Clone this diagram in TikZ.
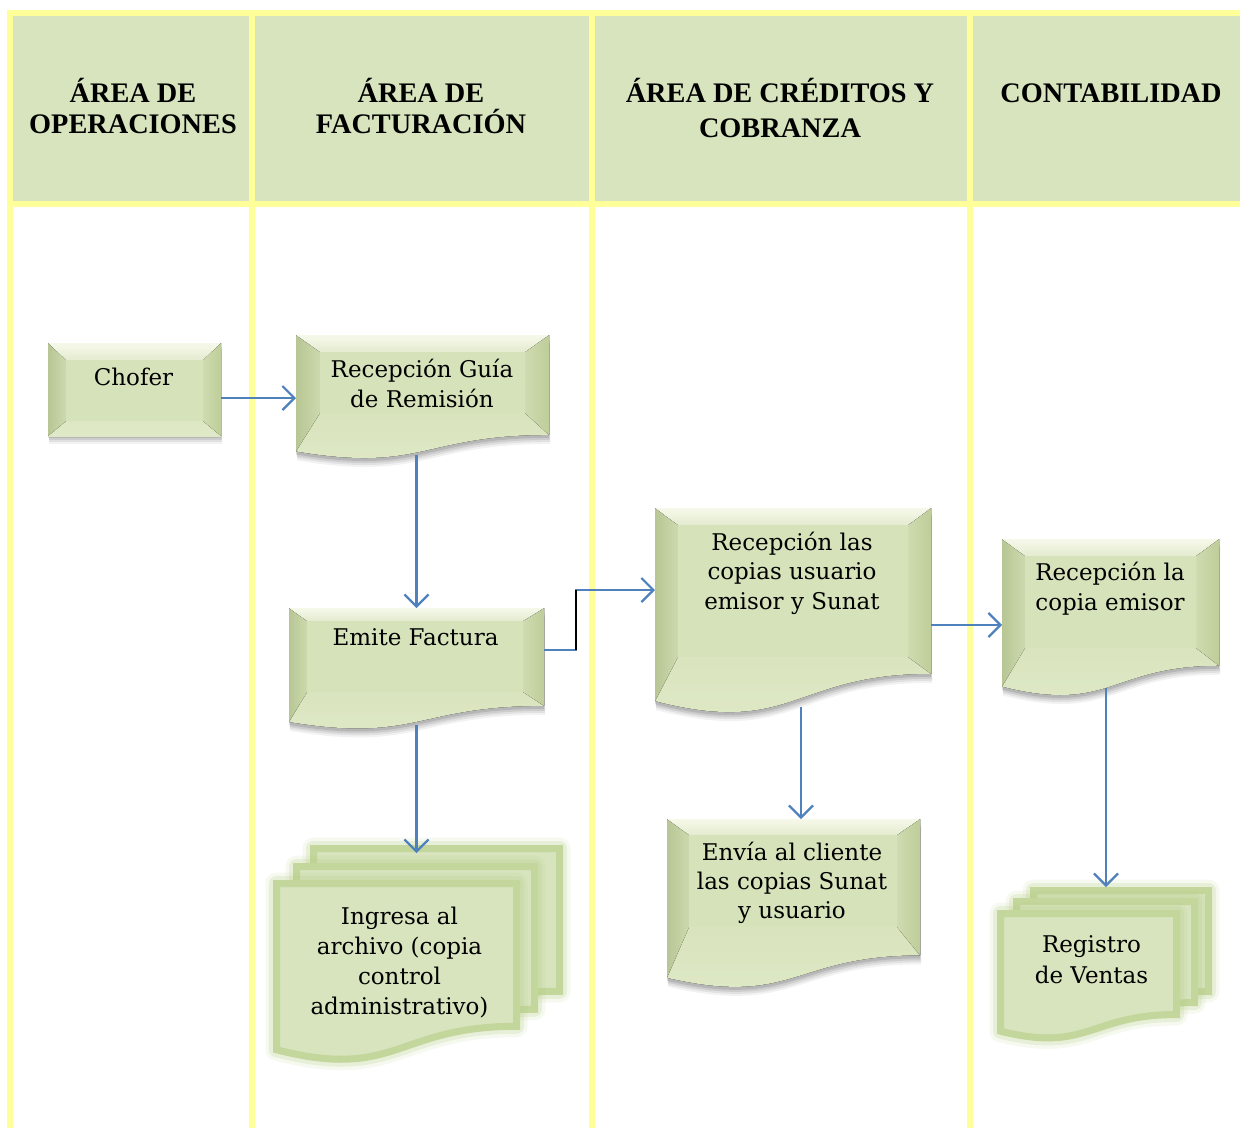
\documentclass[tikz,border=0pt]{standalone}
\usepackage{fontspec}
\setmainfont{DejaVu Serif}
\newfontfamily\headfont{Liberation Serif}
\usetikzlibrary{arrows.meta}
\definecolor{lanefill}{HTML}{D7E4BD}
\definecolor{laneline}{HTML}{FFFF99}
\definecolor{connblue}{HTML}{4F81BD}
\definecolor{face}{HTML}{D6E2BA}
\definecolor{bbtop}{HTML}{D0DDB0}
\definecolor{bbbot}{HTML}{DFE9C7}
\definecolor{lbout}{HTML}{B8C695}
\definecolor{lbin}{HTML}{CCD9AD}
\definecolor{rbin}{HTML}{CFDBB0}
\definecolor{rbout}{HTML}{BECD99}
\definecolor{tbout}{HTML}{F6F9EA}
\definecolor{tbin}{HTML}{E4EBCF}
\definecolor{pagefill}{HTML}{D8E4BE}
\definecolor{pageline}{HTML}{C3D69B}
\definecolor{pageglow}{HTML}{B5CC85}
\newcommand\mlines[2]{\vtop{\baselineskip=#1\lineskiplimit=-50pt\halign{\hfil##\hfil\cr#2\crcr}}}
\newcommand\bevdoc[8]{%
  \pgfmathsetmacro\bdR{#2+0.802*#4}%
  \pgfmathsetmacro\bdL{#2+0.934*#4}%
  \pgfmathsetmacro\bdX{(#1+#3)/2}%
  \pgfmathsetmacro\bdC{#2+1.1075*#4}%
  \foreach \dx/\dy/\op in {1/9/0.05,1/7/0.07,0.5/5/0.09,0/3/0.11}{%
    \fill[black,opacity=\op,shift={(\dx,\dy)}] (#1,#2) -- (#3,#2) -- (#3,\bdR) .. controls (\bdX,\bdR) and (\bdX,\bdC) .. (#1,\bdL) -- cycle;}%
  \fill[top color=bbtop,bottom color=bbbot] (#1,#2) -- (#3,#2) -- (#3,\bdR) .. controls (\bdX,\bdR) and (\bdX,\bdC) .. (#1,\bdL) -- cycle;
  \fill[left color=lbout,right color=lbin] (#1,#2) -- (#5,#6) -- (#5,#8) -- (#1,\bdL) -- cycle;
  \fill[left color=rbin,right color=rbout] (#3,#2) -- (#7,#6) -- (#7,#8) -- (#3,\bdR) -- cycle;
  \fill[top color=tbout,bottom color=tbin] (#1,#2) -- (#3,#2) -- (#7,#6) -- (#5,#6) -- cycle;
  \fill[face] (#5,#6) rectangle (#7,#8);
}
\newcommand\bevbox[8]{%
  \foreach \dx/\dy/\op in {1/8/0.05,1/6/0.07,0.5/4/0.09,0/2/0.11}{%
    \fill[black,opacity=\op,shift={(\dx,\dy)}] (#1,#2) rectangle (#3,#4);}%
  \fill[top color=bbtop,bottom color=bbbot] (#1,#2) rectangle (#3,#4);
  \fill[left color=lbout,right color=lbin] (#1,#2) -- (#5,#6) -- (#5,#8) -- (#1,#4) -- cycle;
  \fill[left color=rbin,right color=rbout] (#3,#2) -- (#7,#6) -- (#7,#8) -- (#3,#4) -- cycle;
  \fill[top color=tbout,bottom color=tbin] (#1,#2) -- (#3,#2) -- (#7,#6) -- (#5,#6) -- cycle;
  \fill[face] (#5,#6) rectangle (#7,#8);
}
\newcommand\mpage[4]{%
  \pgfmathsetmacro\bdR{#2+0.802*#4}%
  \pgfmathsetmacro\bdL{#2+0.934*#4}%
  \pgfmathsetmacro\bdX{(#1+#3)/2}%
  \pgfmathsetmacro\bdC{#2+1.1075*#4}%
  \draw[pageglow,line width=22pt,opacity=0.12,line join=round] (#1,#2) -- (#3,#2) -- (#3,\bdR) .. controls (\bdX,\bdR) and (\bdX,\bdC) .. (#1,\bdL) -- cycle;
  \draw[pageglow,line width=15pt,opacity=0.22,line join=round] (#1,#2) -- (#3,#2) -- (#3,\bdR) .. controls (\bdX,\bdR) and (\bdX,\bdC) .. (#1,\bdL) -- cycle;
  \fill[pagefill] (#1,#2) -- (#3,#2) -- (#3,\bdR) .. controls (\bdX,\bdR) and (\bdX,\bdC) .. (#1,\bdL) -- cycle;
  \draw[pageline,line width=7pt] (#1,#2) -- (#3,#2) -- (#3,\bdR) .. controls (\bdX,\bdR) and (\bdX,\bdC) .. (#1,\bdL) -- cycle;
}
\tikzset{
  connector/.style={draw=connblue, line width=2.2pt, -{Straight Barb[length=12pt,width=24pt]}},
  lanerule/.style={draw=laneline, line width=6pt},
  shapebox/.style={inner sep=0pt, outer sep=0pt, draw=none},
  body/.style={inner sep=0pt, anchor=base, font=\fontsize{23}{30}\selectfont},
  head/.style={inner sep=0pt, anchor=base, font=\headfont\bfseries\fontsize{28.3}{31}\selectfont},
}
\begin{document}
\begin{tikzpicture}[x=1pt,y=-1pt]
\useasboundingbox (0,0) rectangle (1240,1128);
% lanes
\fill[lanefill] (10,13) rectangle (1240,204);
\draw[lanerule] (7,13) -- (1240,13);
\draw[lanerule] (7,204) -- (1240,204);
\draw[lanerule] (10,13) -- (10,1128);
\draw[lanerule] (252,13) -- (252,1128);
\draw[lanerule] (592,13) -- (592,1128);
\draw[lanerule] (970,13) -- (970,1128);
\node[head] (h1) at (133,102) {\mlines{31pt}{ÁREA DE\cr OPERACIONES}};
\node[head] (h2) at (421,102) {\mlines{31pt}{ÁREA DE\cr FACTURACIÓN}};
\node[head] (h3) at (780,102) {\mlines{35pt}{ÁREA DE CRÉDITOS Y\cr COBRANZA}};
\node[head] (h4) at (1111,102) {\mlines{31pt}{CONTABILIDAD}};
% shapes
\bevbox{48}{343}{221}{436}{66}{360}{203}{421}
\bevdoc{296}{335}{549}{124.6}{320}{352}{525}{413}
\bevdoc{289}{608}{544}{122}{307}{621}{523}{692}
\bevdoc{655}{508}{931}{206.7}{678}{525}{908}{657}
\bevdoc{1002}{539}{1219}{158}{1025}{556}{1196}{648}
\bevdoc{667}{819}{920}{170}{689}{835}{897}{927}
\mpage{313.5}{848.5}{559.5}{178}
\mpage{296.5}{866.5}{534.5}{178}
\mpage{276.5}{883.5}{516.5}{178}
\mpage{1033.5}{890.5}{1208.5}{126}
\mpage{1016.5}{901.5}{1194.5}{126}
\mpage{1000.5}{913.5}{1176.5}{126}
% named boxes
\node[shapebox, minimum width=173pt, minimum height=93pt] (chofer) at (134.5,389.5) {};
\node[shapebox, minimum width=253pt, minimum height=123pt] (rg) at (422.5,396.5) {};
\node[shapebox, minimum width=255pt, minimum height=120pt] (emite) at (416.5,668) {};
\node[shapebox, minimum width=276pt, minimum height=204pt] (rcs) at (793,610) {};
\node[shapebox, minimum width=217pt, minimum height=156pt] (rce) at (1110.5,617) {};
\node[shapebox, minimum width=253pt, minimum height=168pt] (envia) at (793.5,903) {};
\node[shapebox, minimum width=290pt, minimum height=223pt] (ing) at (418,956.5) {};
\node[shapebox, minimum width=215pt, minimum height=161pt] (reg) at (1104.5,967.5) {};
% texts
\node[body] (chofer-t) at (133.5,385) {\mlines{30pt}{Chofer}};
\node[body] (rg-t) at (422,377) {\mlines{30pt}{Recepción Guía\cr de Remisión}};
\node[body] (emite-t) at (415.5,645) {\mlines{30pt}{Emite Factura}};
\node[body] (rcs-t) at (792,550) {\mlines{29.5pt}{Recepción las\cr copias usuario\cr emisor y Sunat}};
\node[body] (rce-t) at (1110,580) {\mlines{30pt}{Recepción la\cr copia emisor}};
\node[body] (envia-t) at (792,860) {\mlines{29pt}{Envía al cliente\cr las copias Sunat\cr y usuario}};
\node[body] (ing-t) at (399.5,924) {\mlines{30pt}{Ingresa al\cr archivo (copia\cr control\cr administrativo)}};
\node[body] (reg-t) at (1091.5,952) {\mlines{31pt}{Registro\cr de Ventas}};
% connectors
\coordinate (a1) at ([yshift=-8.5pt]chofer.east);
\draw[connector] (a1) -- (a1 -| rg.west);
\coordinate (a2) at (emite.north |- rg.south);
\draw[connector] ([yshift=3pt]a2) -- (emite.north);
\coordinate (k1) at (576,650);
\coordinate (k2) at (576,590);
\draw[connector] (emite.east |- k1) -- (k1) -- (k2) -- (k2 -| rcs.west);
\draw[black, line width=2.2pt] (k1) -- (k2);
\coordinate (ingin) at ([yshift=-8pt]ing.north);
\draw[connector] ([yshift=3pt]emite.south) -- (emite.south |- ingin);
\coordinate (a5) at ([yshift=-15pt]rcs.east);
\draw[connector] (a5) -- (a5 -| rce.west);
\coordinate (a6) at ([xshift=8pt,yshift=5pt]rcs.south);
\draw[connector] (a6) -- (a6 |- envia.north);
\coordinate (a7) at ([xshift=-4.5pt,yshift=7pt]rce.south);
\draw[connector] (a7) -- (a7 |- reg.north);
\end{tikzpicture}
\end{document}
